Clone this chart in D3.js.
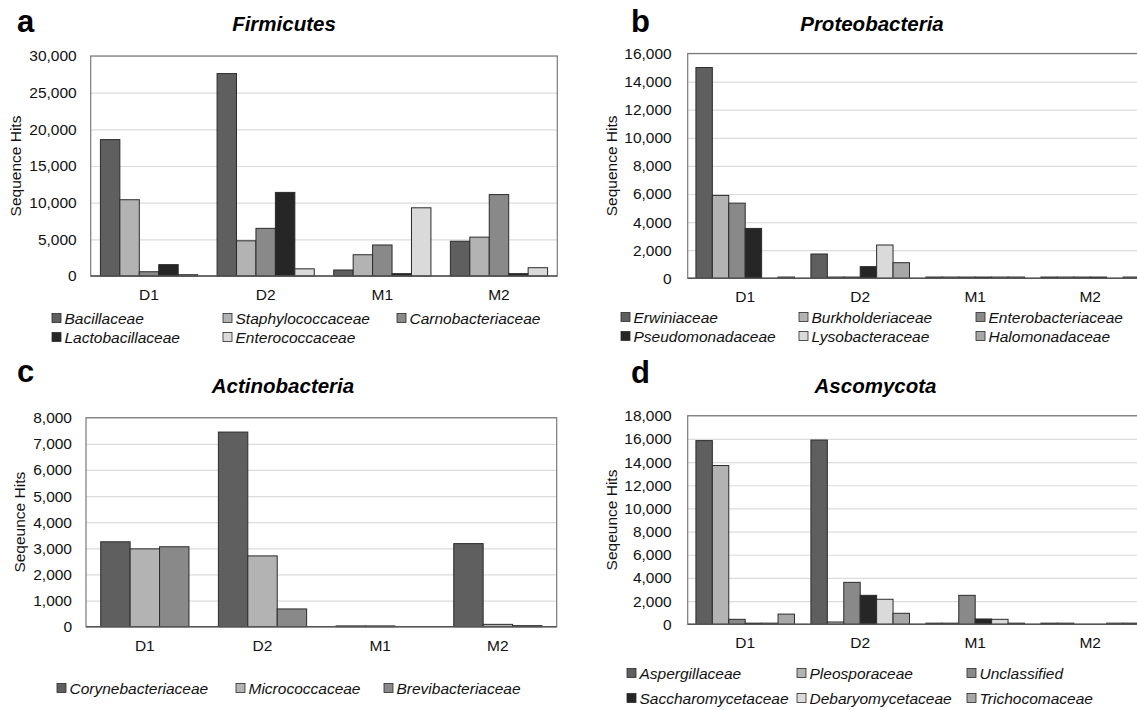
<!DOCTYPE html>
<html>
<head>
<meta charset="utf-8">
<script src="https://cdn.jsdelivr.net/npm/d3@7"></script>
<style>
  body { margin: 0; background: #fff; }
  svg { display: block; font-family: "Liberation Sans", Arial, sans-serif; }
</style>
</head>
<body>
<svg id="fig" width="1137" height="710"></svg>
<script>
// samples on the x axis
const categories = ["D1", "D2", "M1", "M2"];

// a - Firmicutes
const firmFamilies = ["Bacillaceae", "Staphylococcaceae", "Carnobacteriaceae", "Lactobacillaceae", "Enterococcaceae"];
const firmHits = [
  [18600, 27600, 820, 4740],
  [10400, 4800, 2900, 5300],
  [580, 6500, 4230, 11100],
  [1550, 11400, 320, 320],
  [180, 980, 9300, 1130]
];
const firmTicks = [0, 5000, 10000, 15000, 20000, 25000, 30000];

// b - Proteobacteria
const proteoFamilies = ["Erwiniaceae", "Burkholderiaceae", "Enterobacteriaceae", "Pseudomonadaceae", "Lysobacteraceae", "Halomonadaceae"];
const proteoHits = [
  [15000, 1730, 90, 90],
  [5900, 90, 90, 90],
  [5350, 90, 90, 90],
  [3550, 830, 90, 90],
  [0, 2370, 90, 0],
  [90, 1110, 90, 90]
];
const proteoTicks = [0, 2000, 4000, 6000, 8000, 10000, 12000, 14000, 16000];

// c - Actinobacteria
const actinoFamilies = ["Corynebacteriaceae", "Micrococcaceae", "Brevibacteriaceae"];
const actinoHits = [
  [3250, 7450, 30, 3180],
  [2980, 2710, 30, 90],
  [3060, 680, 0, 40]
];
const actinoTicks = [0, 1000, 2000, 3000, 4000, 5000, 6000, 7000, 8000];

// d - Ascomycota
const ascoFamilies = ["Aspergillaceae", "Pleosporaceae", "Unclassified", "Saccharomycetaceae", "Debaryomycetaceae", "Trichocomaceae"];
const ascoHits = [
  [15850, 15900, 100, 100],
  [13700, 200, 100, 100],
  [430, 3620, 2500, 0],
  [100, 2500, 460, 0],
  [100, 2160, 430, 100],
  [880, 950, 100, 100]
];
const ascoTicks = [0, 2000, 4000, 6000, 8000, 10000, 12000, 14000, 16000, 18000];

const greys = ["#5f5f5f", "#b3b3b3", "#898989", "#262626", "#dadada", "#a7a7a7"];

const svg = d3.select("#fig");

function drawPanel(p) {
  const g = svg.append("g");
  const n = p.families.length;

  const x0 = d3.scaleBand().domain(categories).range([p.left, p.right]);
  const x1 = d3.scaleBand().domain(d3.range(n)).range([0, x0.bandwidth()]).paddingOuter(0.5);
  const y = d3.scaleLinear().domain([0, d3.max(p.ticks)]).range([p.zero, p.top]);

  // gridlines
  g.append("g")
    .attr("transform", "translate(" + p.left + ",0)")
    .call(d3.axisLeft(y).tickValues(p.ticks.slice(1)).tickSize(-(p.right - p.left)).tickFormat(""))
    .call(s => s.select(".domain").remove())
    .selectAll("line").attr("stroke", "#dcdcdc").attr("stroke-width", 1.2);

  // frame
  g.append("rect")
    .attr("x", p.left).attr("y", y(d3.max(p.ticks)))
    .attr("width", p.right - p.left).attr("height", p.zero - y(d3.max(p.ticks)))
    .attr("fill", "none").attr("stroke", "#7a7a7a").attr("stroke-width", 1.2);

  // bars
  const series = g.append("g").selectAll("g")
    .data(p.hits)
    .join("g")
    .attr("fill", (d, i) => greys[i]);

  series.selectAll("rect")
    .data(d => d.map((v, j) => ({cat: categories[j], v: v})))
    .join("rect")
    .attr("x", function(d) { const i = p.hits.indexOf(d3.select(this.parentNode).datum()); return x0(d.cat) + x1(i); })
    .attr("y", d => y(d.v))
    .attr("width", x1.bandwidth())
    .attr("height", d => p.zero - y(d.v))
    .attr("stroke", d => d.v > 0 ? "#2b2b2b" : "none")
    .attr("stroke-width", 1);

  // zero line
  g.append("line")
    .attr("x1", p.left).attr("x2", p.right)
    .attr("y1", p.zero).attr("y2", p.zero)
    .attr("stroke", "#555").attr("stroke-width", 1.5);

  // y axis labels
  g.append("g")
    .attr("transform", "translate(" + p.left + ",0)")
    .call(d3.axisLeft(y).tickValues(p.ticks).tickSize(0).tickPadding(p.tickPad).tickFormat(d3.format(",")))
    .call(s => s.select(".domain").remove())
    .selectAll("text").attr("font-size", "15.5px").attr("fill", "#111").style("font-family", "Liberation Sans, Arial");

  // x axis labels
  g.append("g")
    .attr("transform", "translate(0," + p.zero + ")")
    .call(d3.axisBottom(x0).tickSize(0).tickPadding(13))
    .call(s => s.select(".domain").remove())
    .selectAll("text").attr("font-size", "15.5px").attr("fill", "#111").style("font-family", "Liberation Sans, Arial");

  // y axis title
  g.append("text")
    .attr("transform", "translate(" + p.yTitleX + "," + ((p.top + p.zero) / 2) + ") rotate(-90)")
    .attr("text-anchor", "middle")
    .attr("dy", "0.35em")
    .attr("font-size", "15.5px")
    .attr("fill", "#111")
    .text(p.yTitle);

  // panel letter and title
  g.append("text")
    .attr("x", p.letterX).attr("y", p.letterY)
    .attr("font-size", "31px").attr("font-weight", "bold").attr("fill", "#000")
    .text(p.letter);

  g.append("text")
    .attr("x", p.titleX).attr("y", p.titleY)
    .attr("text-anchor", "middle")
    .attr("font-size", "20.5px").attr("font-weight", "bold").attr("font-style", "italic").attr("fill", "#000")
    .text(p.title);

  // legend
  const leg = g.append("g").selectAll("g")
    .data(p.families)
    .join("g")
    .attr("transform", (d, i) => "translate(" + p.legX[i % 3] + "," + p.legY[Math.floor(i / 3)] + ")");

  leg.append("rect")
    .attr("x", 0).attr("y", -4.5)
    .attr("width", 9).attr("height", 9)
    .attr("fill", (d, i) => greys[i])
    .attr("stroke", "#2b2b2b").attr("stroke-width", 0.8);

  leg.append("text")
    .attr("x", 12.5).attr("dy", "0.36em")
    .attr("font-size", "15.5px").attr("font-style", "italic").attr("fill", "#111")
    .text(d => d);
}

drawPanel({
  letter: "a", letterX: 17, letterY: 32, title: "Firmicutes", titleX: 284, titleY: 31,
  yTitle: "Sequence Hits", yTitleX: 16,
  families: firmFamilies, hits: firmHits, ticks: firmTicks,
  left: 90.7, right: 557.3, top: 56, zero: 276, tickPad: 14,
  legX: [52, 223, 397], legY: [318, 337]
});

drawPanel({
  letter: "b", letterX: 631, letterY: 32, title: "Proteobacteria", titleX: 872, titleY: 31,
  yTitle: "Sequence Hits", yTitleX: 611.5,
  families: proteoFamilies, hits: proteoHits, ticks: proteoTicks,
  left: 687.7, right: 1147.7, top: 53.5, zero: 278.3, tickPad: 16,
  legX: [621, 799, 976], legY: [317, 336]
});

drawPanel({
  letter: "c", letterX: 17, letterY: 382, title: "Actinobacteria", titleX: 283, titleY: 393,
  yTitle: "Seqeunce Hits", yTitleX: 19.6,
  families: actinoFamilies, hits: actinoHits, ticks: actinoTicks,
  left: 86, right: 556.7, top: 417.7, zero: 626.7, tickPad: 14,
  legX: [57, 236, 384], legY: [688]
});

drawPanel({
  letter: "d", letterX: 631, letterY: 383, title: "Ascomycota", titleX: 875.5, titleY: 393,
  yTitle: "Seqeunce Hits", yTitleX: 611.5,
  families: ascoFamilies, hits: ascoHits, ticks: ascoTicks,
  left: 687.7, right: 1147.7, top: 415.7, zero: 624.3, tickPad: 16,
  legX: [627, 797, 967], legY: [673, 698]
});
</script>
</body>
</html>
